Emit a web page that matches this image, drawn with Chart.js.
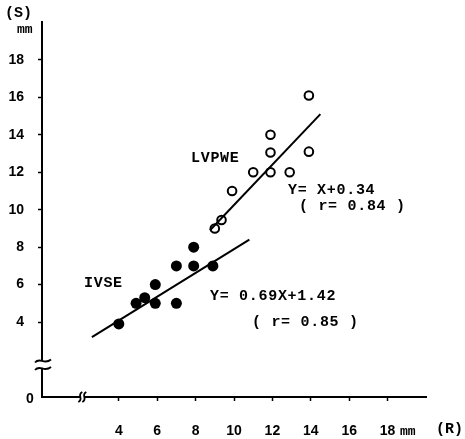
<!DOCTYPE html>
<html>
<head>
<meta charset="utf-8">
<script src="https://cdn.jsdelivr.net/npm/chart.js@4/dist/chart.umd.min.js"></script>
<style>
  html, body { margin: 0; padding: 0; background: #fff; }
  #wrap { width: 465px; height: 439px; }
</style>
</head>
<body>
<div id="wrap"><canvas id="chart" width="465" height="439"></canvas></div>
<script>
// tick labels (mm)
const xTicks = [4, 6, 8, 10, 12, 14, 16, 18];
const yTicks = [4, 6, 8, 10, 12, 14, 16, 18];

// IVSE (filled dots)
const ivseX = [4, 4.9, 5.35, 5.9, 5.9, 7, 7, 7.9, 7.9, 8.9];
const ivseY = [3.9, 5, 5.3, 6, 5, 7, 5, 8, 7, 7];

// LVPWE (open circles)
const lvpweX = [9, 9.35, 9.9, 11, 11.9, 11.9, 11.9, 12.9, 13.9, 13.9];
const lvpweY = [9, 9.45, 11, 12, 12, 13.05, 14, 12, 13.1, 16.1];

// regression lines as drawn (end points)
const ivseFitX = [2.6, 10.8];
const ivseFitY = [3.2, 8.4];
const lvpweFitX = [8.75, 14.5];
const lvpweFitY = [8.9, 15.1];

const toPts = (xs, ys) => xs.map((x, i) => ({ x: x, y: ys[i] }));

const monoFont = "bold 15px 'Liberation Mono', 'DejaVu Sans Mono', monospace";
const tickFont = { family: "'Liberation Sans', Arial, sans-serif", size: 14, weight: "bold" };

// axis breaks, extra labels, equations
const extras = {
    id: "extras",
    afterDraw(chart) {
        const ctx = chart.ctx;
        const xs = chart.scales.x, ys = chart.scales.y;
        const ax = xs.getPixelForValue(0), ay = ys.getPixelForValue(0);
        ctx.save();

        // y axis break
        const b1 = ys.getPixelForValue(1.95), b2 = ys.getPixelForValue(1.55);
        ctx.fillStyle = "#fff";
        ctx.fillRect(ax - 3, b1, 6, b2 - b1);
        ctx.strokeStyle = "#000";
        ctx.lineWidth = 1.8;
        [b1, b2].forEach(by => {
            ctx.beginPath();
            ctx.moveTo(ax - 7, by + 2);
            ctx.bezierCurveTo(ax - 2, by - 4, ax + 2, by + 5, ax + 9, by - 1);
            ctx.stroke();
        });

        // x axis break
        const bx = xs.getPixelForValue(2.1);
        ctx.fillStyle = "#fff";
        ctx.fillRect(bx - 2, ay - 3, 4, 6);
        ctx.lineWidth = 1.8;
        [bx - 2, bx + 2].forEach(px => {
            ctx.beginPath();
            ctx.moveTo(px + 2, ay - 5);
            ctx.bezierCurveTo(px - 4, ay - 2, px + 4, ay + 2, px - 2, ay + 5);
            ctx.stroke();
        });

        ctx.fillStyle = "#000";
        ctx.textBaseline = "middle";

        // origin label
        ctx.font = "bold 14px 'Liberation Sans', Arial, sans-serif";
        ctx.textAlign = "center";
        ctx.fillText("0", 30, ay + 2);

        // axis unit labels
        ctx.textAlign = "left";
        ctx.font = "bold 15px 'Liberation Mono', monospace";
        ctx.fillText("(S)", 5, 13);
        ctx.fillText("(R)", 436, 429);
        ctx.font = "bold 13px 'Liberation Mono', monospace";
        ctx.fillText("mm", 17, 30);
        ctx.fillText("mm", 400, 432);

        // series labels and equations
        ctx.font = monoFont;
        ctx.letterSpacing = "0.7px";
        ctx.fillText("LVPWE", 191, 158);
        ctx.fillText("Y= X+0.34", 288, 190);
        ctx.fillText("( r= 0.84 )", 299, 206);
        ctx.fillText("IVSE", 84, 283);
        ctx.fillText("Y= 0.69X+1.42", 210, 296);
        ctx.fillText("( r= 0.85 )", 252, 322);
        ctx.restore();
    }
};

new Chart(document.getElementById("chart").getContext("2d"), {
    type: "scatter",
    data: {
        datasets: [
            {
                label: "IVSE fit",
                data: toPts(ivseFitX, ivseFitY),
                showLine: true,
                borderColor: "#000",
                borderWidth: 2,
                pointRadius: 0
            },
            {
                label: "LVPWE fit",
                data: toPts(lvpweFitX, lvpweFitY),
                showLine: true,
                borderColor: "#000",
                borderWidth: 2,
                pointRadius: 0
            },
            {
                label: "IVSE",
                data: toPts(ivseX, ivseY),
                pointRadius: 5.5,
                backgroundColor: "#000",
                borderColor: "#000",
                borderWidth: 0
            },
            {
                label: "LVPWE",
                data: toPts(lvpweX, lvpweY),
                pointRadius: 4.3,
                backgroundColor: "#fff",
                borderColor: "#000",
                borderWidth: 2
            }
        ]
    },
    options: {
        responsive: false,
        animation: false,
        layout: { padding: { top: 17, right: 39, bottom: 0, left: 0 } },
        plugins: {
            legend: { display: false },
            tooltip: { enabled: false }
        },
        scales: {
            x: {
                type: "linear",
                min: 0,
                max: 20,
                afterBuildTicks: s => { s.ticks = xTicks.map(v => ({ value: v })); },
                afterFit: s => { s.height = 42; },
                border: { display: true, color: "#000", width: 2 },
                grid: { drawOnChartArea: false, tickLength: 4, tickColor: "#000", tickWidth: 1.5 },
                ticks: { padding: 22, color: "#000", maxRotation: 0, font: tickFont }
            },
            y: {
                type: "linear",
                min: 0,
                max: 20,
                afterBuildTicks: s => { s.ticks = yTicks.map(v => ({ value: v })); },
                afterFit: s => { s.width = 42; },
                border: { display: true, color: "#000", width: 2 },
                grid: { drawOnChartArea: false, tickLength: 4, tickColor: "#000", tickWidth: 1.5 },
                ticks: { padding: 14, color: "#000", font: tickFont }
            }
        }
    },
    plugins: [extras]
});
</script>
</body>
</html>
